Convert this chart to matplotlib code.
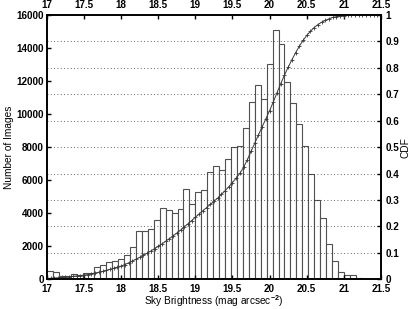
import numpy as np
import matplotlib
matplotlib.use('Agg')
import matplotlib.pyplot as plt
from matplotlib.ticker import FuncFormatter

plt.rcParams['font.family'] = 'Liberation Sans'
plt.rcParams['font.weight'] = 'bold'
plt.rcParams['mathtext.fontset'] = 'custom'
plt.rcParams['mathtext.bf'] = 'Liberation Sans:bold'
plt.rcParams['mathtext.rm'] = 'Liberation Sans:bold'
plt.rcParams['mathtext.default'] = 'bf'

# histograma: bins de 0.08 mag empezando en 17
bin_start = 17.0
bin_width = 0.08
counts = [500, 430, 180, 230, 300, 290, 380, 400, 750, 880,
          1050, 1080, 1200, 1450, 1980, 2950, 2900, 3050, 3600, 4300,
          4200, 4000, 4250, 5450, 4550, 5300, 5400, 6470, 6850, 6610,
          7260, 8000, 8060, 9150, 10720, 11750, 10890, 13020, 15110, 14230,
          11950, 10640, 9370, 8060, 6400, 4800, 3700, 2150, 1100, 430,
          240, 240, 70, 20, 10, 0]

# CDF, cada 0.05 mag
cdf_start = 17.0
cdf_step = 0.05
cdf = [0.003, 0.004, 0.005, 0.006, 0.007, 0.008, 0.010, 0.011, 0.013, 0.014,
       0.016, 0.018, 0.021, 0.024, 0.027, 0.030, 0.034, 0.038, 0.042, 0.046,
       0.050, 0.056, 0.062, 0.069, 0.076, 0.083, 0.091, 0.099, 0.107, 0.116,
       0.125, 0.134, 0.144, 0.154, 0.164, 0.175, 0.186, 0.198, 0.210, 0.222,
       0.235, 0.247, 0.259, 0.271, 0.283, 0.295, 0.307, 0.321, 0.335, 0.350,
       0.366, 0.383, 0.401, 0.424, 0.452, 0.484, 0.515, 0.546, 0.577, 0.607,
       0.638, 0.671, 0.706, 0.740, 0.772, 0.802, 0.830, 0.857, 0.881, 0.903,
       0.922, 0.938, 0.952, 0.963, 0.972, 0.979, 0.985, 0.990, 0.993, 0.995,
       0.997, 0.998, 0.999, 0.9995, 1.0, 1.0, 1.0, 1.0, 1.0, 1.0, 1.0]

xticks = [17, 17.5, 18, 18.5, 19, 19.5, 20, 20.5, 21, 21.5]
yticks = [0, 2000, 4000, 6000, 8000, 10000, 12000, 14000, 16000]
cdf_ticks = [0, 0.1, 0.2, 0.3, 0.4, 0.5, 0.6, 0.7, 0.8, 0.9, 1]

left_edges = bin_start + bin_width * np.arange(len(counts))
cdf_x = cdf_start + cdf_step * np.arange(len(cdf))

fig = plt.figure(figsize=(4.15, 3.09), dpi=100)
ax = fig.add_axes([0.113, 0.096, 0.805, 0.856])
ax.bar(left_edges, counts, width=bin_width, align='edge', color='white',
       edgecolor='#505050', linewidth=0.8)
ax.set_xlim(17, 21.5)
ax.set_ylim(0, 16000)
ax.set_xticks(xticks)
ax.set_xticklabels(['%g' % v for v in xticks])
ax.set_yticks(yticks)
ax.tick_params(axis='both', direction='in', length=3, width=1, labelsize=7.1, pad=2)
ax.tick_params(axis='x', top=True, labeltop=True, pad=3.5)
ax.set_xlabel(r'Sky Brightness (mag arcsec$^{-2}$)', fontsize=7.3, labelpad=-0.5)
ax.set_ylabel('Number of Images', fontsize=7.3, labelpad=2)

ax2 = ax.twinx()
ax2.plot(cdf_x, cdf, '-', color='#3a3a3a', linewidth=0.7, marker='+',
         markersize=3.5, markeredgewidth=0.6)
ax2.set_ylim(0, 1)
ax2.set_yticks(cdf_ticks)
ax2.yaxis.set_major_formatter(FuncFormatter(lambda v, p: '%g' % v))
ax2.tick_params(axis='y', direction='in', length=3, width=1, labelsize=7.1, pad=3)
ax2.grid(axis='y', linestyle=(0, (1, 3)), color='#333333', linewidth=0.6)
ax2.set_ylabel('CDF', fontsize=7.3, labelpad=1)

for a in (ax, ax2):
    for s in a.spines.values():
        s.set_linewidth(1.2)

plt.savefig('out.png', dpi=100)
